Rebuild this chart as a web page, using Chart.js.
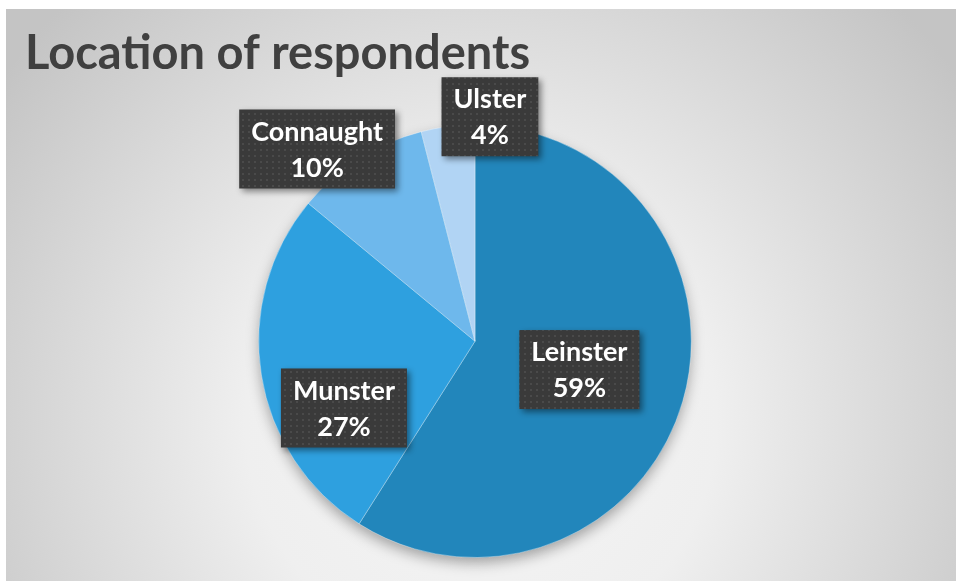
<!DOCTYPE html>
<html>
<head>
<meta charset="utf-8">
<script src="https://cdn.jsdelivr.net/npm/chart.js@4.4.1/dist/chart.umd.min.js"></script>
<style>
  html, body { margin: 0; padding: 0; background: #fff; }
  #wrap { position: absolute; left: 6px; top: 9px; width: 950px; height: 572px; }
</style>
</head>
<body>
<div id="wrap"><canvas id="locChart"></canvas></div>
<script>
// respondents by province
var provinces = ['Leinster', 'Munster', 'Connaught', 'Ulster'];
var shares = [59, 27, 10, 4];
var sliceColours = ['#2286BB', '#2EA0DF', '#6EB8EC', '#B1D4F4'];

// where each label box sits: shift from the slice's mid angle (deg), distance in radii
var labelShift = [-1, -18, -7, 11];
var labelDist = [0.5, 0.68, 1.15, 1.04];

// grey radial backdrop
const backdrop = {
  id: 'backdrop',
  beforeDraw(chart) {
    const c = chart.ctx, w = chart.width, h = chart.height;
    const g = c.createRadialGradient(w * 0.5, h * 0.72, 0, w * 0.5, h * 0.72, w * 0.62);
    g.addColorStop(0, '#f5f5f5');
    g.addColorStop(0.4, '#efefef');
    g.addColorStop(1, '#c4c4c4');
    c.save();
    c.fillStyle = g;
    c.fillRect(0, 0, w, h);
    c.restore();
  }
};

// soft drop shadow under the whole pie
const pieShadow = {
  id: 'pieShadow',
  beforeDatasetsDraw(chart) {
    const arc = chart.getDatasetMeta(0).data[0];
    if (!arc) return;
    const c = chart.ctx;
    c.save();
    c.shadowColor = 'rgba(0,0,0,0.35)';
    c.shadowBlur = 14;
    c.shadowOffsetY = 6;
    c.fillStyle = sliceColours[0];
    c.beginPath();
    c.arc(arc.x, arc.y, arc.outerRadius - 1, 0, Math.PI * 2);
    c.fill();
    c.restore();
  }
};

// dotted dark tile for the callouts
function dotPattern(c) {
  const p = document.createElement('canvas');
  p.width = 6; p.height = 6;
  const pc = p.getContext('2d');
  pc.fillStyle = '#3a3a3a';
  pc.fillRect(0, 0, 6, 6);
  pc.fillStyle = '#4a4a4a';
  pc.fillRect(2, 2, 2, 2);
  return c.createPattern(p, 'repeat');
}

const callouts = {
  id: 'callouts',
  afterDatasetsDraw(chart) {
    const c = chart.ctx;
    const meta = chart.getDatasetMeta(0);
    const total = shares.reduce((a, b) => a + b, 0);
    const fill = dotPattern(c);
    c.save();
    c.font = 'bold 27px Lato';
    c.textAlign = 'center';
    c.textBaseline = 'middle';
    meta.data.forEach((arc, i) => {
      const mid = (arc.startAngle + arc.endAngle) / 2 + labelShift[i] * Math.PI / 180;
      const cx = arc.x + Math.cos(mid) * arc.outerRadius * labelDist[i];
      const cy = arc.y + Math.sin(mid) * arc.outerRadius * labelDist[i];
      const line1 = provinces[i];
      const line2 = Math.round(shares[i] / total * 100) + '%';
      const tw = Math.max(c.measureText(line1).width, c.measureText(line2).width);
      const bw = tw + 24, bh = 79;
      c.save();
      c.shadowColor = 'rgba(0,0,0,0.45)';
      c.shadowBlur = 6;
      c.shadowOffsetX = 3;
      c.shadowOffsetY = 3;
      c.fillStyle = fill;
      c.fillRect(cx - bw / 2, cy - bh / 2, bw, bh);
      c.restore();
      c.fillStyle = '#ffffff';
      c.fillText(line1, cx, cy - 17);
      c.fillText(line2, cx, cy + 19);
    });
    c.restore();
  }
};

new Chart(document.getElementById('locChart'), {
  type: 'pie',
  data: {
    labels: provinces,
    datasets: [{
      data: shares,
      backgroundColor: sliceColours,
      borderColor: 'rgba(255,255,255,0.35)',
      borderWidth: 1,
      hoverOffset: 0
    }]
  },
  plugins: [backdrop, pieShadow, callouts],
  options: {
    responsive: true,
    maintainAspectRatio: false,
    animation: false,
    layout: { padding: { top: 10, bottom: 23, left: 19, right: 31 } },
    plugins: {
      legend: { display: false },
      tooltip: { enabled: false },
      title: {
        display: true,
        text: 'Location of respondents',
        align: 'start',
        color: '#404040',
        font: { family: 'Lato', size: 47, weight: 'bold', lineHeight: 1.2 },
        padding: { top: 7, bottom: 42 }
      }
    }
  }
});
</script>
</body>
</html>
